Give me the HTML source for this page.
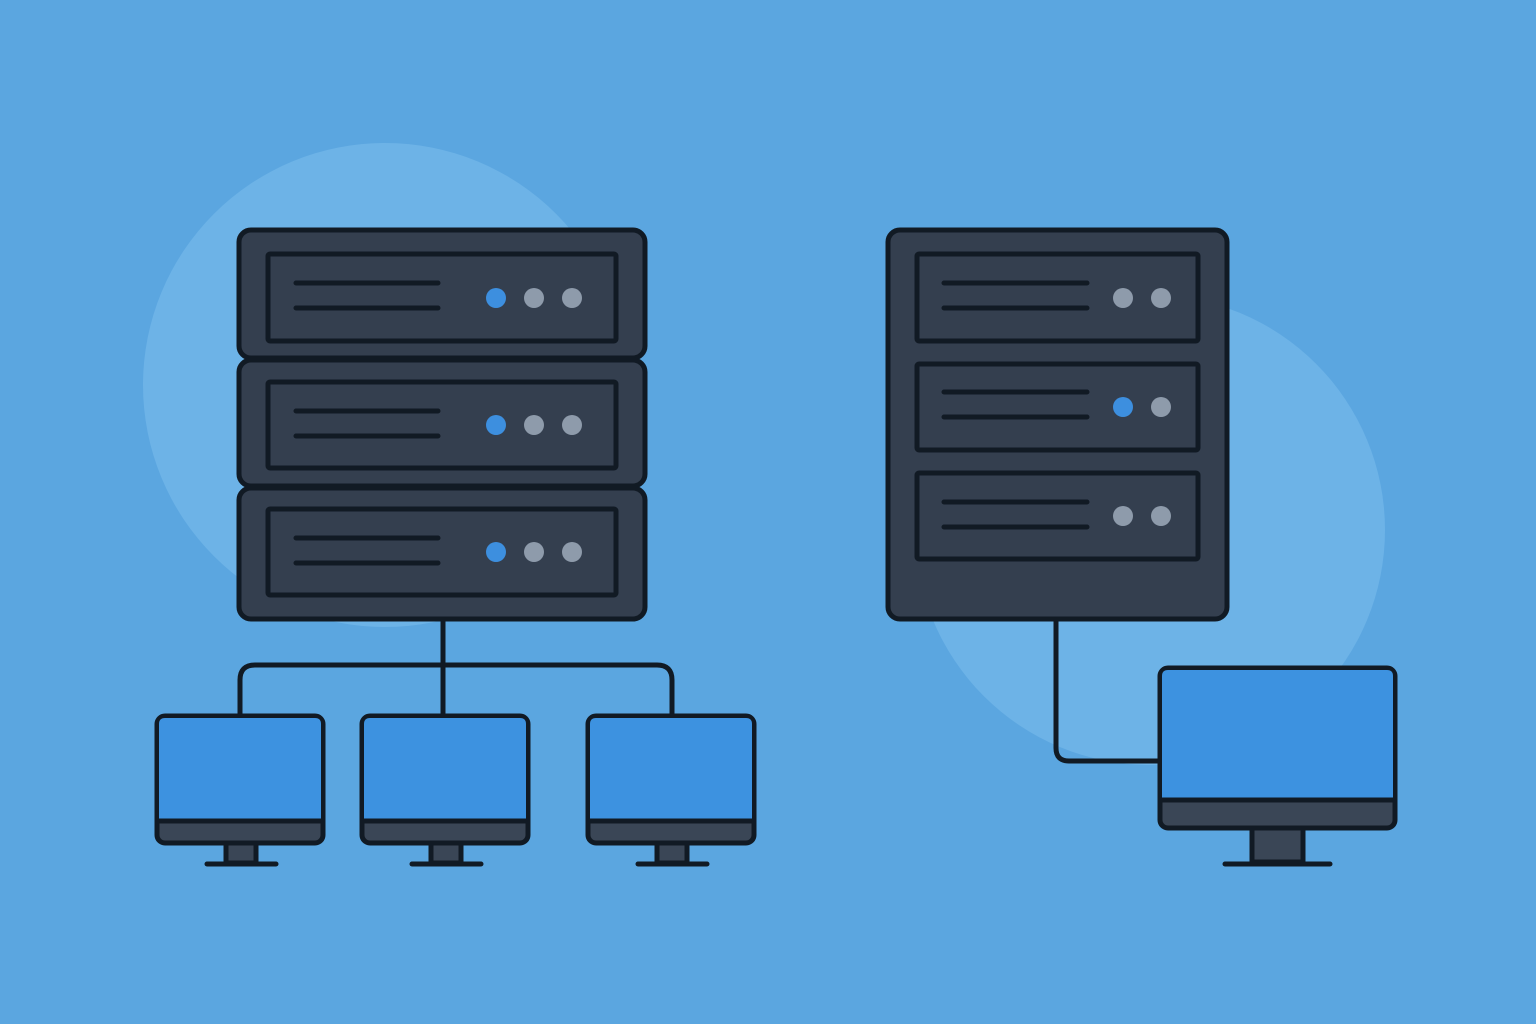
<!DOCTYPE html>
<html><head><meta charset="utf-8"><style>html,body{margin:0;padding:0;width:1536px;height:1024px;overflow:hidden;background:#5ba6e0}</style></head>
<body>
<svg width="1536" height="1024" viewBox="0 0 1536 1024" xmlns="http://www.w3.org/2000/svg">
<rect width="1536" height="1024" fill="#5ba6e0"/>
<circle cx="385" cy="385" r="242" fill="#6db3e7"/>
<circle cx="1150" cy="530" r="235" fill="#6db3e7"/>
<g stroke="#111a24" stroke-width="5" fill="none" stroke-linecap="round" stroke-linejoin="round">
<path d="M443 619 V716"/>
<path d="M240 716 V680 Q240 665 255 665 H657 Q672 665 672 680 V716"/>
<path d="M1056 619 V748 Q1056 761 1069 761 H1160"/>
</g>
<g fill="#343f4f" stroke="#111a24" stroke-width="5">
<rect x="239" y="230" width="406" height="128" rx="12"/>
<rect x="239" y="360" width="406" height="126" rx="12"/>
<rect x="239" y="488" width="406" height="131" rx="12"/>
<rect x="268" y="254" width="348" height="87" rx="2"/>
<rect x="268" y="382" width="348" height="86" rx="2"/>
<rect x="268" y="509" width="348" height="86" rx="2"/>
<rect x="888" y="230" width="339" height="389" rx="12"/>
<rect x="917" y="254" width="281" height="87" rx="2"/>
<rect x="917" y="364" width="281" height="86" rx="2"/>
<rect x="917" y="473" width="281" height="86" rx="2"/>
</g>
<g stroke="#111a24" stroke-width="5" stroke-linecap="round">
<path d="M296 283H438M296 308H438M296 411H438M296 436H438M296 538H438M296 563H438"/>
<path d="M944 283H1087M944 308H1087M944 392H1087M944 417H1087M944 502H1087M944 527H1087"/>
</g>
<g fill="#8e9bab">
<circle cx="534" cy="298" r="10"/><circle cx="572" cy="298" r="10"/>
<circle cx="534" cy="425" r="10"/><circle cx="572" cy="425" r="10"/>
<circle cx="534" cy="552" r="10"/><circle cx="572" cy="552" r="10"/>
<circle cx="1123" cy="298" r="10"/><circle cx="1161" cy="298" r="10"/>
<circle cx="1161" cy="407" r="10"/>
<circle cx="1123" cy="516" r="10"/><circle cx="1161" cy="516" r="10"/>
</g>
<g fill="#3d8fdf">
<circle cx="496" cy="298" r="10"/><circle cx="496" cy="425" r="10"/><circle cx="496" cy="552" r="10"/>
<circle cx="1123" cy="407" r="10"/>
</g>
<g stroke="#111a24" stroke-width="5">
<g id="m1">
<rect x="226" y="843" width="30" height="20" fill="#3a4656"/>
<path d="M207 864H276" stroke-linecap="round"/>
<rect x="157" y="716" width="166" height="127" rx="8" fill="#3a4656"/>
<path d="M159 821V724Q159 718 165 718H315Q321 718 321 724V821Z" fill="#3d92e0" stroke="none"/>
<path d="M158 821H322"/>
</g>
<use href="#m1" x="205"/>
<use href="#m1" x="431"/>
<rect x="1252" y="828" width="51" height="34" fill="#3a4656"/>
<path d="M1225 864H1330" stroke-linecap="round"/>
<rect x="1160" y="668" width="235" height="160" rx="8" fill="#3a4656"/>
<path d="M1162 800V676Q1162 670 1168 670H1387Q1393 670 1393 676V800Z" fill="#3d92e0" stroke="none"/>
<path d="M1161 800H1394"/>
</g>
</svg>
</body></html>
